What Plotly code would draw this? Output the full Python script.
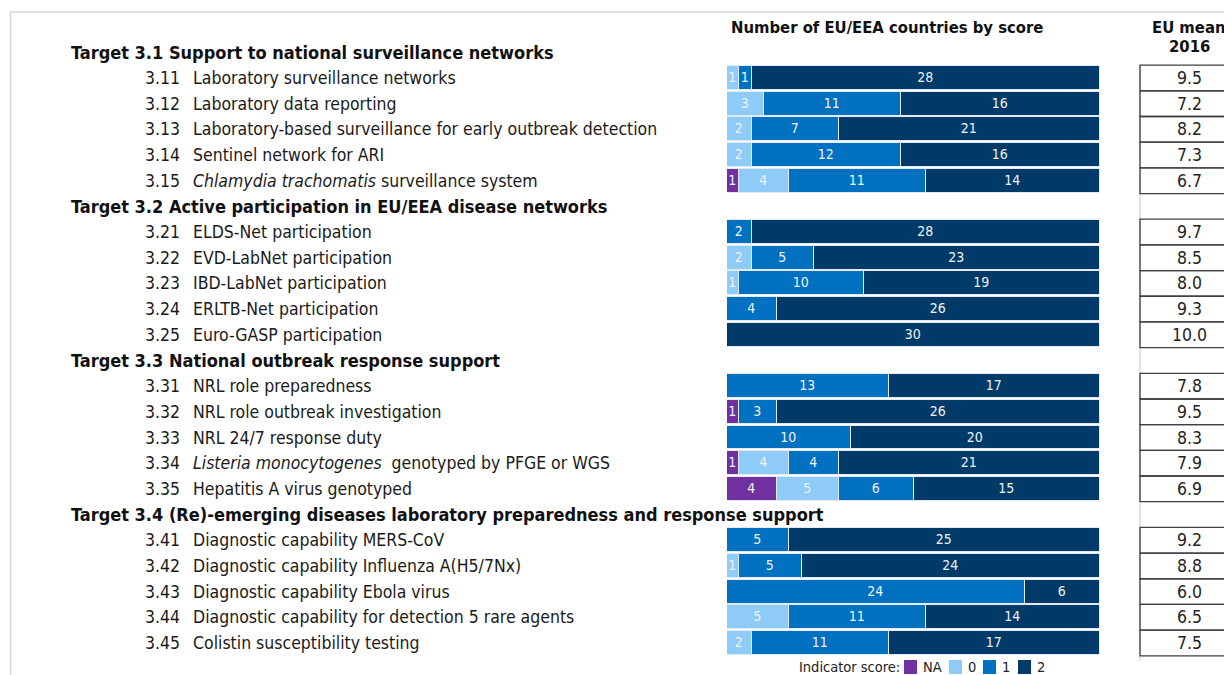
import plotly.graph_objects as go

# ---------------- data ----------------
group_titles = [
    "Target 3.1 Support to national surveillance networks",
    "Target 3.2 Active participation in EU/EEA disease networks",
    "Target 3.3 National outbreak response support",
    "Target 3.4 (Re)-emerging diseases laboratory preparedness and response support",
]
group_sizes = [5, 5, 5, 5]

codes = ["3.11", "3.12", "3.13", "3.14", "3.15",
         "3.21", "3.22", "3.23", "3.24", "3.25",
         "3.31", "3.32", "3.33", "3.34", "3.35",
         "3.41", "3.42", "3.43", "3.44", "3.45"]
labels = [
    "Laboratory surveillance networks",
    "Laboratory data reporting",
    "Laboratory-based surveillance for early outbreak detection",
    "Sentinel network for ARI",
    "<i>Chlamydia trachomatis</i> surveillance system",
    "ELDS-Net participation",
    "EVD-LabNet participation",
    "IBD-LabNet participation",
    "ERLTB-Net participation",
    "Euro-GASP participation",
    "NRL role preparedness",
    "NRL role outbreak investigation",
    "NRL 24/7 response duty",
    "<i>Listeria monocytogenes</i>  genotyped by PFGE or WGS",
    "Hepatitis A virus genotyped",
    "Diagnostic capability MERS-CoV",
    "Diagnostic capability Influenza A(H5/7Nx)",
    "Diagnostic capability Ebola virus",
    "Diagnostic capability for detection 5 rare agents",
    "Colistin susceptibility testing",
]
score_na = [0, 0, 0, 0, 1, 0, 0, 0, 0, 0, 0, 1, 0, 1, 4, 0, 0, 0, 0, 0]
score_0 = [1, 3, 2, 2, 4, 0, 2, 1, 0, 0, 0, 0, 0, 4, 5, 0, 1, 0, 5, 2]
score_1 = [1, 11, 7, 12, 11, 2, 5, 10, 4, 0, 13, 3, 10, 4, 6, 5, 5, 24, 11, 11]
score_2 = [28, 16, 21, 16, 14, 28, 23, 19, 26, 30, 17, 26, 20, 21, 15, 25, 24, 6, 14, 17]
eu_mean = [9.5, 7.2, 8.2, 7.3, 6.7, 9.7, 8.5, 8.0, 9.3, 10.0,
           7.8, 9.5, 8.3, 7.9, 6.9, 9.2, 8.8, 6.0, 6.5, 7.5]

series_names = ["NA", "0", "1", "2"]
series_values = [score_na, score_0, score_1, score_2]
series_colors = ["#7030A0", "#8FCBF8", "#0070C0", "#003A68"]

# ---------------- layout helpers ----------------
W, H = 1224, 675
FONT = "DejaVu Sans Condensed, DejaVu Sans"
TXT = "#1a1a1a"

header_rows = []
item_rows = []
r = 0
for size in group_sizes:
    header_rows.append(r)
    r += 1
    for _ in range(size):
        item_rows.append(r)
        r += 1


def px(x):
    return x / W


def py(y):
    return 1 - y / H


fig = go.Figure()

for name, vals, col in zip(series_names, series_values, series_colors):
    fig.add_trace(go.Bar(
        name=name,
        orientation="h",
        x=vals,
        y=item_rows,
        width=0.93,
        marker=dict(color=col, line=dict(color="#E4EAF0", width=1.5)),
        text=[str(v) if v > 0 else "" for v in vals],
        textposition="inside",
        insidetextanchor="middle",
        textangle=0,
        textfont=dict(family=FONT, size=14, color="#EEF2F6"),
        hoverinfo="skip",
        showlegend=False,
    ))

annotations = []
shapes = []

# group titles
for t, yr in zip(group_titles, header_rows):
    annotations.append(dict(x=px(69), y=yr, xref="paper", yref="y", text="<b>" + t + "</b>",
                            showarrow=False, xanchor="left", yanchor="middle",
                            font=dict(family=FONT, size=18, color="#111111")))
# items
for c, lab, yr, m in zip(codes, labels, item_rows, eu_mean):
    annotations.append(dict(x=px(143), y=yr, xref="paper", yref="y", text=c,
                            showarrow=False, xanchor="left", yanchor="middle",
                            font=dict(family=FONT, size=17.5, color=TXT)))
    annotations.append(dict(x=px(191), y=yr, xref="paper", yref="y", text=lab,
                            showarrow=False, xanchor="left", yanchor="middle",
                            font=dict(family=FONT, size=17.5, color=TXT)))
    annotations.append(dict(x=px(1189), y=yr, xref="paper", yref="y", text=f"{m:.1f}",
                            showarrow=False, xanchor="center", yanchor="middle",
                            font=dict(family=FONT, size=17.5, color="#222222")))
    shapes.append(dict(type="rect", xref="paper", yref="y", x0=px(1140), x1=1.05,
                       y0=yr - 0.5, y1=yr + 0.5, line=dict(color="#404040", width=1.3),
                       fillcolor="rgba(0,0,0,0)", layer="above"))

# light connector line for the mean column
shapes.insert(0, dict(type="line", xref="paper", yref="y", x0=px(1140), x1=px(1140),
                      y0=item_rows[0] - 0.5, y1=item_rows[-1] + 0.7,
                      line=dict(color="#D0D0D0", width=1.2), layer="below"))

# column headers
annotations.append(dict(x=px(729), y=py(27), xref="paper", yref="paper",
                        text="<b>Number of EU/EEA countries by score</b>", showarrow=False,
                        xanchor="left", yanchor="middle",
                        font=dict(family=FONT, size=16.5, color="#111111")))
annotations.append(dict(x=px(1189), y=py(27), xref="paper", yref="paper",
                        text="<b>EU mean</b>", showarrow=False,
                        xanchor="center", yanchor="middle",
                        font=dict(family=FONT, size=16.5, color="#111111")))
annotations.append(dict(x=px(1189), y=py(47), xref="paper", yref="paper",
                        text="<b>2016</b>", showarrow=False,
                        xanchor="center", yanchor="middle",
                        font=dict(family=FONT, size=16.5, color="#111111")))

# frame lines
shapes.append(dict(type="line", xref="paper", yref="paper", x0=px(10), x1=1.0,
                   y0=py(12), y1=py(12), line=dict(color="#D6D6D6", width=1.5)))
shapes.append(dict(type="line", xref="paper", yref="paper", x0=px(10.5), x1=px(10.5),
                   y0=0, y1=py(12), line=dict(color="#D6D6D6", width=1.5)))

# legend (compact, as in the reference)
LEG_Y = 667
annotations.append(dict(x=px(902), y=py(LEG_Y), xref="paper", yref="paper",
                        text="Indicator score:", showarrow=False, xanchor="right",
                        yanchor="middle", font=dict(family=FONT, size=14.5, color="#222222")))
leg_sq_x = [904, 949, 983, 1018]
for name, col, sx in zip(series_names, series_colors, leg_sq_x):
    shapes.append(dict(type="rect", xref="paper", yref="paper", x0=px(sx), x1=px(sx + 13),
                       y0=py(LEG_Y + 7), y1=py(LEG_Y - 7), fillcolor=col,
                       line=dict(width=0)))
    annotations.append(dict(x=px(sx + 17), y=py(LEG_Y), xref="paper", yref="paper",
                            text=name, showarrow=False, xanchor="left", yanchor="middle",
                            font=dict(family=FONT, size=14.5, color="#222222")))

row_y0 = 52.3
row_step = 25.68
y_top = -row_y0 / row_step
y_bot = (H - row_y0) / row_step

fig.update_layout(
    width=W, height=H,
    margin=dict(l=0, r=0, t=0, b=0),
    paper_bgcolor="white", plot_bgcolor="white",
    barmode="stack",
    bargap=0,
    xaxis=dict(domain=[px(727), px(1100)], range=[0, 30], visible=False, fixedrange=True),
    yaxis=dict(domain=[0, 1], range=[y_bot, y_top], visible=False, fixedrange=True),
    uniformtext=dict(mode="show", minsize=14),
    showlegend=False,
    annotations=annotations,
    shapes=shapes,
    font=dict(family=FONT),
)

fig.write_html("out.html",
               config={"displayModeBar": False},
               post_script="document.body.style.margin='0';document.body.style.overflow='hidden';")
